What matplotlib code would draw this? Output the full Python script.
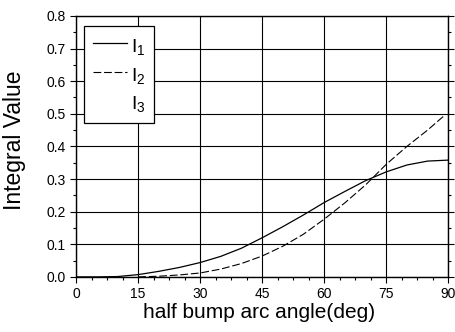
import numpy as np
import matplotlib
matplotlib.use("Agg")
import matplotlib.pyplot as plt
from matplotlib.lines import Line2D
from matplotlib.ticker import MultipleLocator, FormatStrFormatter

plt.rcParams['font.family'] = ['Liberation Sans', 'DejaVu Sans']
plt.rcParams['mathtext.fontset'] = 'custom'
plt.rcParams['mathtext.rm'] = 'Liberation Sans'

# half bump arc angle (deg)
angle = [0, 5, 10, 15, 20, 25, 30, 35, 40, 45, 50, 55, 60, 65, 70, 75, 80, 85, 90]
i1 = [0.0, 0.0, 0.001, 0.007, 0.017, 0.029, 0.044, 0.063, 0.088, 0.12, 0.154,
      0.19, 0.228, 0.262, 0.295, 0.322, 0.343, 0.355, 0.358]
angle2 = [15, 20, 25, 30, 35, 40, 45, 50, 55, 60, 65, 70, 75, 80, 85, 89]
i2 = [0.0, 0.002, 0.006, 0.012, 0.024, 0.041, 0.064, 0.094, 0.131, 0.177,
      0.227, 0.282, 0.345, 0.40, 0.45, 0.494]
labels = [r'$\mathregular{I_1}$', r'$\mathregular{I_2}$', r'$\mathregular{I_3}$']

fig = plt.figure(figsize=(4.56, 3.32), dpi=100)
ax = fig.add_axes([0.167, 0.166, 0.816, 0.786])

ax.plot(angle, i1, color='black', lw=0.9)
ax.plot(angle2, i2, color='black', lw=0.8, dashes=(7, 2.5))

ax.set_xlim(0, 90)
ax.set_ylim(0, 0.8)
ax.xaxis.set_major_locator(MultipleLocator(15))
ax.xaxis.set_minor_locator(MultipleLocator(3.75))
ax.yaxis.set_major_locator(MultipleLocator(0.1))
ax.yaxis.set_minor_locator(MultipleLocator(0.05))
ax.yaxis.set_major_formatter(FormatStrFormatter('%.1f'))
ax.grid(True, which='major', color='black', lw=0.8)
ax.tick_params(which='both', direction='out', labelsize=10, width=0.8, right=True)
ax.tick_params(which='major', length=4)
ax.tick_params(which='minor', length=2.5)
for s in ax.spines.values():
    s.set_linewidth(1.0)

ax.set_xlabel('half bump arc angle(deg)', fontsize=15)
ax.xaxis.set_label_coords(0.492, -0.1)
ax.set_ylabel('Integral Value', fontsize=16.5)
ax.yaxis.set_label_coords(-0.134, 0.523)

handles = [Line2D([], [], color='black', lw=0.9),
           Line2D([], [], color='black', lw=0.8, dashes=(7, 2.5)),
           Line2D([], [], color='white', lw=0.8)]
leg = ax.legend(handles, labels, loc='upper left', bbox_to_anchor=(0.0215, 0.963),
                borderaxespad=0, frameon=True, fancybox=False, edgecolor='black',
                framealpha=1, fontsize=14, handlelength=1.75, handletextpad=0.2,
                handleheight=1.4, labelspacing=0.3, borderpad=0.45)
leg.get_frame().set_linewidth(0.9)

fig.savefig('out.png', dpi=100)
